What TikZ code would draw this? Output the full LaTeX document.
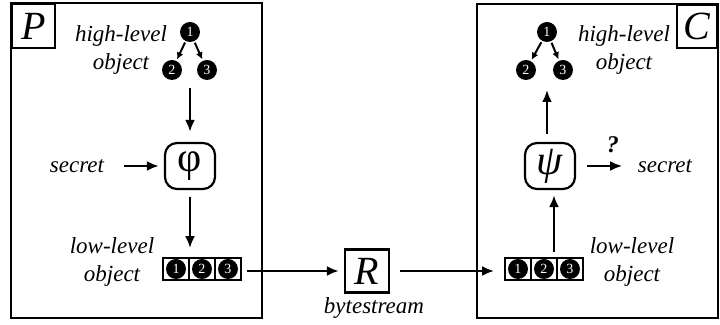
\documentclass[tikz,border=0pt]{standalone}
\usepackage{fontspec}
\setmainfont{Liberation Serif}
\usetikzlibrary{arrows.meta}

\tikzset{every picture/.style={line width=1.1pt}}
\tikzset{
  ball/.style={circle, fill=black, inner sep=0pt, minimum size=10pt, text=white, font=\fontsize{7}{7}\selectfont},
  cell/.style={draw, line width=0.9pt, minimum width=13pt, minimum height=11pt, inner sep=0pt},
  lbl/.style={font=\fontsize{11.5}{14}\selectfont\itshape, align=center},
  fn/.style={draw, rounded corners=6pt, minimum width=25pt, minimum height=23pt, inner sep=0pt, font=\fontsize{21}{21}\selectfont},
  tag/.style={draw, inner sep=0pt, font=\fontsize{20}{20}\selectfont\itshape},
  arr/.style={-{Latex[length=6pt,width=5pt]}, line width=1.4pt},
  tiny arr/.style={-{Latex[length=3.5pt,width=3.5pt]}, line width=1pt, shorten <=0.3pt, shorten >=0.3pt},
}

\begin{document}
\begin{tikzpicture}[x=0.5pt,y=0.5pt,yscale=-1,xscale=1]
\useasboundingbox (0,0) rectangle (720,325);

%Shape: Rectangle [producer]
\draw (11,3) rectangle (262,318);
\node [tag, anchor=north west, minimum width=21.5pt, minimum height=22pt] (ptag) at (11,3) {P};
%Shape: Rectangle [consumer]
\draw (477,4) rectangle (718,318);
\node [tag, anchor=north east, minimum width=20pt, minimum height=21.5pt] (ctag) at (718,4) {C};

% high-level objects
\node [ball] (p1) at (190,32) {1};
\node [ball] (p2) at (172,70) {2};
\node [ball] (p3) at (207,70) {3};
\draw [tiny arr] (p1) -- (p2);
\draw [tiny arr] (p1) -- (p3);
\node [ball] (c1) at (547,32) {1};
\node [ball] (c2) at (526,70) {2};
\node [ball] (c3) at (563,70) {3};
\draw [tiny arr] (c1) -- (c2);
\draw [tiny arr] (c1) -- (c3);
\coordinate (ptree) at (190,88);
\coordinate (ctree) at (547,90);

% low-level objects
\foreach \n/\x in {1/176,2/202,3/228} {
  \node [cell] (pa\n) at (\x,269) {};
  \node [ball, minimum size=10pt] at (pa\n) {\n};
}
\foreach \n/\x in {1/518,2/544,3/570} {
  \node [cell] (ca\n) at (\x,269) {};
  \node [ball, minimum size=10pt] at (ca\n) {\n};
}

% functions
\node [fn] (phi) at (190,166) {φ};
\node [fn] (psi) at (550,166) {\textit{ψ}};
\node [tag, minimum width=22pt, minimum height=21.5pt] (R) at (367,271) {R};

% Text Node
\node [lbl] (phigh) at (121,50) {high-level\\object};
\node [lbl] (chigh) at (624,50) {high-level\\object};
\node [lbl] (plow) at (112,262) {low-level\\object};
\node [lbl] (clow) at (632,262) {low-level\\object};
\node [lbl] (psec) at (77,166) {secret};
\node [lbl] (csec) at (665,166) {secret};
\node [lbl] (bytes) at (374,308) {bytestream};
\node [font=\fontsize{12}{12}\selectfont\bfseries\itshape] (qm) at (613,145) {?};

% connectors
\draw [arr, shorten >=5pt] (ptree) -- (phi);
\draw [arr, shorten <=6pt, shorten >=2.5pt] (psec) -- (phi);
\draw [arr, shorten <=3.5pt, shorten >=4.5pt] (phi.south) -- (phi.south |- pa1.north);
\draw [arr, shorten <=2.5pt, shorten >=2.5pt] (pa3.east |- R) -- (R.west);
\draw [arr, shorten <=5pt, shorten >=5pt] (R.east) -- (R -| ca1.west);
\draw [arr, shorten <=2.5pt, shorten >=2.5pt] ([xshift=2pt]psi.south |- ca1.north) -- ([xshift=2pt]psi.south);
\draw [arr, shorten <=4pt] ([xshift=-1.5pt]psi.north) -- (ctree);
\draw [arr, shorten <=5.5pt, shorten >=4pt] (psi.east) -- (csec.west);

\end{tikzpicture}
\end{document}
